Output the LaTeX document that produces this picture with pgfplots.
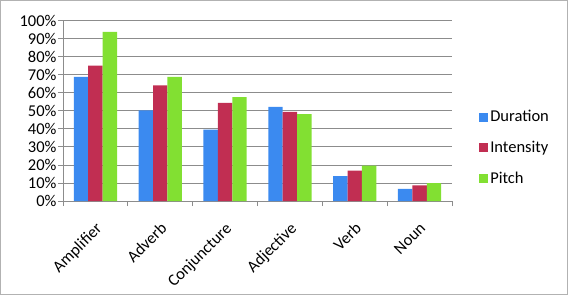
\documentclass[border=0pt]{standalone}
\usepackage{fontspec}
\setmainfont{Carlito}
\usepackage{pgfplots}
\pgfplotsset{compat=1.18}
\definecolor{cblue}{RGB}{59,138,240}
\definecolor{cred}{RGB}{193,46,82}
\definecolor{cgreen}{RGB}{130,224,50}
\definecolor{gridc}{RGB}{140,140,140}
\begin{document}
\begin{tikzpicture}[x=1pt,y=1pt,font=\fontsize{16.5}{19}\selectfont]
\useasboundingbox (0,0) rectangle (568,295);
\draw[gray!60, line width=1pt] (0.5,0.5) rectangle (567.5,294.5);
\begin{axis}[
  at={(63pt,94pt)}, anchor=south west,
  scale only axis, width=389pt, height=180.5pt,
  ybar=0pt, bar width=14.4pt,
  ymin=0, ymax=100, ytick={0,10,...,100},
  yticklabel={\pgfmathprintnumber{\tick}\%},
  /pgf/number format/assume math mode=true,
  y tick label style={xshift=2pt},
  ymajorgrids, grid style={gridc, line width=0.8pt},
  xmin=-0.5, xmax=5.5, xtick={0,...,5},
  xticklabels={Amplifier,Adverb,Conjuncture,Adjective,Verb,Noun},
  x tick label style={rotate=45, anchor=north east, xshift=-8pt, yshift=-7pt},
  major x tick style={draw=none},
  extra x ticks={-0.5,0.5,1.5,2.5,3.5,4.5,5.5},
  extra x tick labels={,,,,,,},
  extra x tick style={major x tick style={draw=gridc, line width=0.8pt}, xmajorgrids=false},
  tick align=outside, major tick length=5pt,
  y tick style={draw=gridc, line width=0.8pt},
  axis x line*=bottom, axis y line*=left,
  axis line style={gridc, line width=0.8pt, -},
  legend style={at={(1.062,0.294)}, anchor=west, draw=none, fill=none, row sep=14pt,
    /tikz/every even column/.append style={column sep=3pt}},
  legend cell align=left,
  legend image code/.code={\fill[#1] (0pt,-4.5pt) rectangle (9pt,4.5pt);},
]
\addplot[fill=cblue, draw=none] coordinates {(0,68.8) (1,50.2) (2,39.5) (3,52.1) (4,13.8) (5,6.7)};
\addplot[fill=cred, draw=none] coordinates {(0,75.0) (1,64.1) (2,54.4) (3,49.4) (4,16.8) (5,8.6)};
\addplot[fill=cgreen, draw=none] coordinates {(0,93.7) (1,68.8) (2,57.6) (3,48.1) (4,19.6) (5,9.9)};
\legend{Duration,Intensity,Pitch}
\end{axis}
\end{tikzpicture}
\end{document}
